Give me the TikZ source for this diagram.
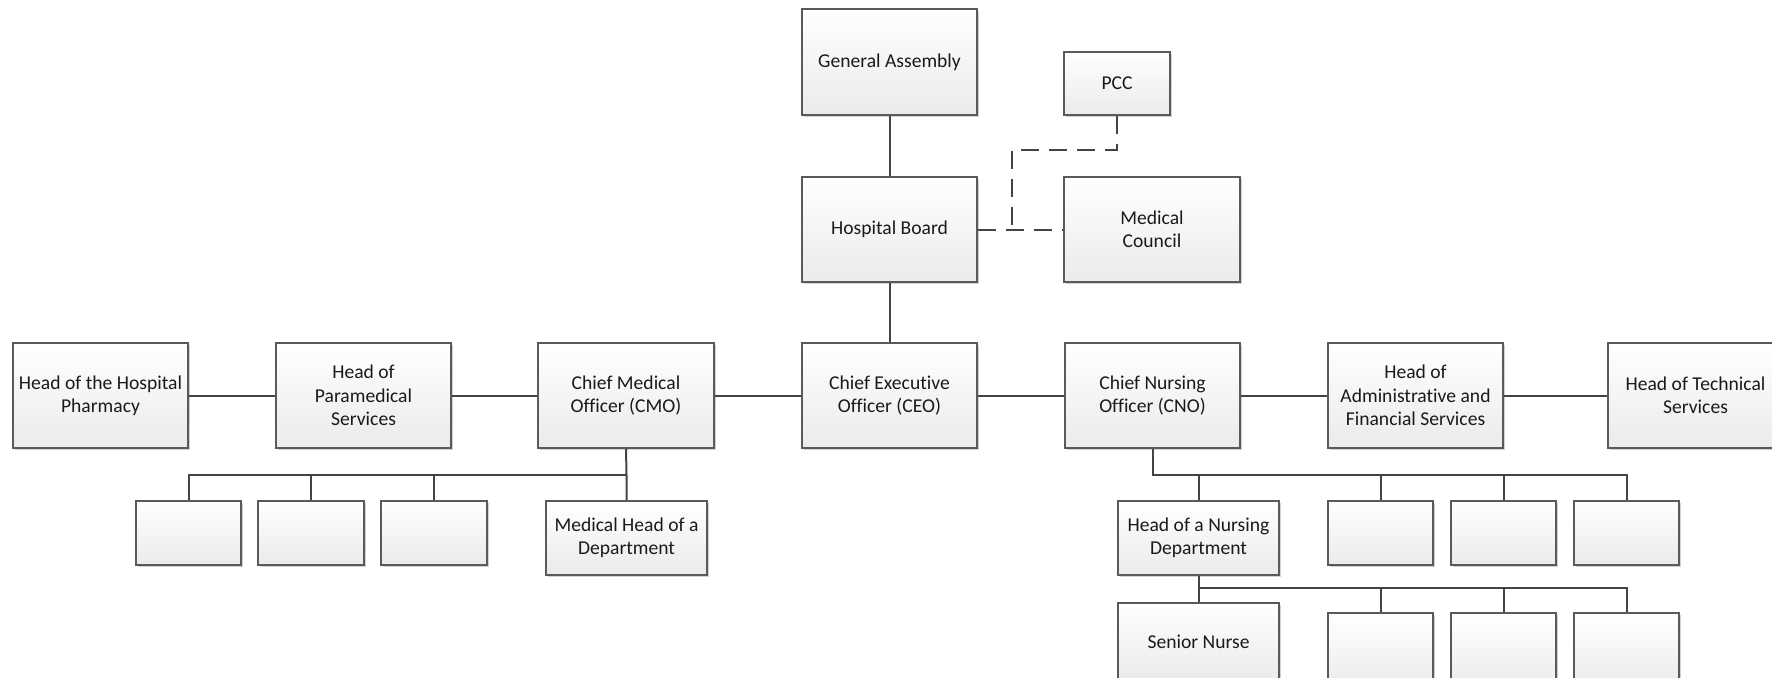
\documentclass[tikz,border=0pt]{standalone}
\usepackage{fontspec}
\setmainfont{Carlito}[RawFeature={-liga}]
\usetikzlibrary{shadows}
\definecolor{boxline}{HTML}{5A5A5A}
\definecolor{conn}{HTML}{444444}
\definecolor{boxtext}{HTML}{1A1A1A}
\newcommand\bx[6]{\node[box, minimum width={(#4-#2)*0.5pt}, minimum height={(#5-#3)*0.5pt}] (#1) at ({(#2+#4)/2},{(#3+#5)/2}) {#6};}
\begin{document}
\begin{tikzpicture}[x=0.5pt,y=-0.5pt,
  box/.style={draw=boxline, line width=0.7pt, top color=white, bottom color=black!8,
    inner sep=1pt, align=center, text=boxtext,
    font=\fontsize{9.8}{11.7}\selectfont,
    drop shadow={shadow xshift=1.1pt, shadow yshift=-1.1pt, opacity=0.18, fill=black}},
  link/.style={draw=conn, line width=1pt},
  dashline/.style={draw=conn, line width=1pt, dash pattern=on 9pt off 5pt}]
\useasboundingbox (0,0) rectangle (1772,677);
\clip (0,0) rectangle (1772,677);
\fill[white] (0,0) rectangle (1772,677);
% top
\bx{ga}{802}{9}{977}{115}{General Assembly}
\bx{pcc}{1064}{52}{1170}{115}{PCC}
\bx{hb}{802}{177}{977}{282}{Hospital Board}
\bx{mc}{1064}{177}{1240}{282}{Medical\\Council}
% main row
\bx{pha}{13}{343}{188}{448}{Head of the Hospital\\Pharmacy}
\bx{par}{276}{343}{451}{448}{Head of\\Paramedical\\Services}
\bx{cmo}{538}{343}{714}{448}{Chief Medical\\Officer (CMO)}
\bx{ceo}{802}{343}{977}{448}{Chief Executive\\Officer (CEO)}
\bx{cno}{1065}{343}{1240}{448}{Chief Nursing\\Officer (CNO)}
\bx{adm}{1328}{343}{1503}{448}{Head of\\Administrative and\\Financial Services}
\bx{tec}{1608}{343}{1783}{448}{Head of Technical\\Services}
% CMO children
\bx{m1}{136}{501}{241}{565}{}
\bx{m2}{258}{501}{364}{565}{}
\bx{m3}{381}{501}{487}{565}{}
\bx{mhd}{546}{501}{707}{575}{Medical Head of a\\Department}
% CNO children
\bx{nhd}{1118}{501}{1279}{575}{Head of a Nursing\\Department}
\bx{n1}{1328}{501}{1433}{565}{}
\bx{n2}{1451}{501}{1556}{565}{}
\bx{n3}{1574}{501}{1679}{565}{}
% NH children
\bx{sn}{1118}{603}{1279}{680}{Senior Nurse}
\bx{s1}{1328}{613}{1433}{690}{}
\bx{s2}{1451}{613}{1556}{690}{}
\bx{s3}{1574}{613}{1679}{690}{}
% coordinates
\coordinate (cmobus) at (626.5,475);
\coordinate (cnobus) at (1152.5,475);
\coordinate (nhbus) at (1198.5,588);
\coordinate (pccbend) at (1012,150);
\coordinate (pccjoin) at (1012,229.5);
% connectors
\draw[link] (ga) -- (hb);
\draw[link] (hb) -- (ceo);
\draw[dashline] (hb.east) -- (mc.west);
\draw[dashline] (pcc.south) |- (pccbend) -- (pccjoin);
\draw[link] (pha) -- (par);
\draw[link] (par) -- (cmo);
\draw[link] (cmo) -- (ceo);
\draw[link] (ceo) -- (cno);
\draw[link] (cno) -- (adm);
\draw[link] (adm) -- (tec);
\draw[link] (cmo.south) -- (cmobus) -- (mhd.north);
\draw[link] (cmobus) -| (m1.north);
\draw[link] (cmobus) -| (m2.north);
\draw[link] (cmobus) -| (m3.north);
\draw[link] (cno.south) -- (cnobus) -| (nhd.north);
\draw[link] (cnobus) -| (n1.north);
\draw[link] (cnobus) -| (n2.north);
\draw[link] (cnobus) -| (n3.north);
\draw[link] (nhd.south) -- (nhbus) -- (sn.north);
\draw[link] (nhbus) -| (s1.north);
\draw[link] (nhbus) -| (s2.north);
\draw[link] (nhbus) -| (s3.north);
\end{tikzpicture}
\end{document}
